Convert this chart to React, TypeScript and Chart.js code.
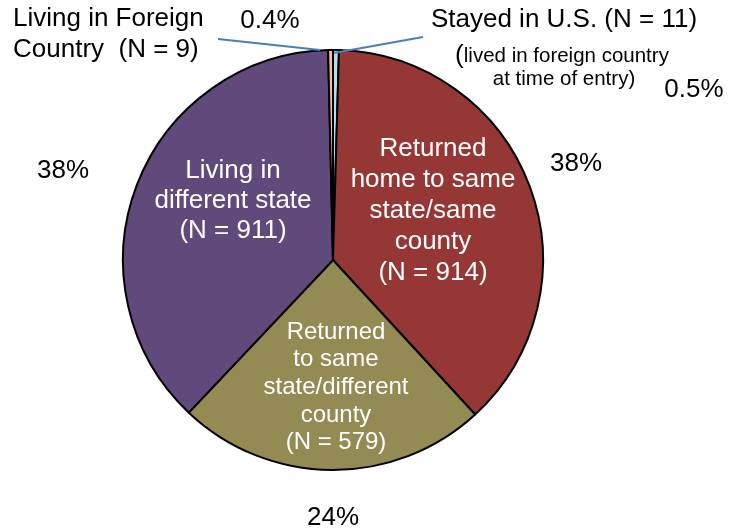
import React, { useEffect, useRef } from "react";
import { Chart, registerables } from "chart.js";

Chart.register(...registerables);

// ---- data ----
const categories = [
  "Stayed in U.S. (N = 11)",
  "Returned home to same state/same county (N = 914)",
  "Returned to same state/different county (N = 579)",
  "Living in different state (N = 911)",
  "Living in Foreign Country (N = 9)",
];
const counts = [11, 914, 579, 911, 9];
const percentLabels = ["0.5%", "38%", "24%", "38%", "0.4%"];
const sliceColors = ["#B7DEE8", "#953735", "#948A54", "#604A7B", "#FAC090"];

const FONT = '"Liberation Sans", Arial, sans-serif';

type Block = {
  lines: string[];
  dx: number; // offset from pie center
  dy: number;
  size: number;
  gap: number;
  color: string;
  align: CanvasTextAlign;
};

// text blocks, positioned relative to the pie centre
const blocks: Block[] = [
  { lines: ["Returned", "home to same", "state/same", "county", "(N = 914)"], dx: 100, dy: -111, size: 26, gap: 31, color: "#fff", align: "center" },
  { lines: ["Returned", "to same", "state/different", "county", "(N = 579)"], dx: 3, dy: 72, size: 24, gap: 27.7, color: "#fff", align: "center" },
  { lines: ["Living in", "different state", "(N = 911)"], dx: -100, dy: -89, size: 26, gap: 30, color: "#fff", align: "center" },
  { lines: ["Living in Foreign", "Country  (N = 9)"], dx: -320, dy: -241, size: 26, gap: 31, color: "#000", align: "left" },
  { lines: ["Stayed in U.S. (N = 11)"], dx: 231, dy: -240, size: 26, gap: 31, color: "#000", align: "center" },
  { lines: ["at time of entry)"], dx: 231, dy: -181, size: 20.5, gap: 24, color: "#000", align: "center" },
  { lines: [percentLabels[1]], dx: 243, dy: -96, size: 26, gap: 30, color: "#000", align: "center" },
  { lines: [percentLabels[2]], dx: 0, dy: 258, size: 26, gap: 30, color: "#000", align: "center" },
  { lines: [percentLabels[3]], dx: -270, dy: -89, size: 26, gap: 30, color: "#000", align: "center" },
  { lines: [percentLabels[0]], dx: 361, dy: -170, size: 26, gap: 30, color: "#000", align: "center" },
  { lines: [percentLabels[4]], dx: -63, dy: -239, size: 26, gap: 30, color: "#000", align: "center" },
];

const labelPlugin = {
  id: "pieLabels",
  afterDraw(chart: any) {
    const arc = chart.getDatasetMeta(0).data[0];
    if (!arc) return;
    const cx = arc.x;
    const cy = arc.y;
    const ctx = chart.ctx as CanvasRenderingContext2D;
    ctx.save();
    // leader lines
    ctx.strokeStyle = "#4A7EBB";
    ctx.lineWidth = 2;
    ctx.beginPath();
    ctx.moveTo(cx - 115, cy - 221);
    ctx.lineTo(cx - 13, cy - 210);
    ctx.moveTo(cx + 90, cy - 223);
    ctx.lineTo(cx + 1, cy - 207);
    ctx.stroke();

    ctx.textBaseline = "middle";
    for (const b of blocks) {
      ctx.fillStyle = b.color;
      ctx.font = `${b.size}px ${FONT}`;
      ctx.textAlign = b.align;
      b.lines.forEach((ln, i) => {
        ctx.fillText(ln, cx + b.dx, cy + b.dy + i * b.gap);
      });
    }
    // "(lived in foreign country" with a larger opening parenthesis
    const rest = "lived in foreign country";
    ctx.font = `26px ${FONT}`;
    const pw = ctx.measureText("(").width;
    ctx.font = `20.5px ${FONT}`;
    const rw = ctx.measureText(rest).width;
    const startX = cx + 229 - (pw + rw) / 2;
    ctx.textAlign = "left";
    ctx.fillStyle = "#000";
    ctx.font = `26px ${FONT}`;
    ctx.fillText("(", startX, cy - 204);
    ctx.font = `20.5px ${FONT}`;
    ctx.fillText(rest, startX + pw, cy - 204);
    ctx.restore();
  },
};

export default function App() {
  const ref = useRef<HTMLCanvasElement | null>(null);
  useEffect(() => {
    if (!ref.current) return;
    const chart = new Chart(ref.current, {
      type: "pie",
      data: {
        labels: categories,
        datasets: [
          {
            data: counts,
            backgroundColor: sliceColors,
            borderColor: "#000",
            borderWidth: 2,
          },
        ],
      },
      options: {
        responsive: false,
        animation: false,
        layout: { padding: { left: 122, right: 197, top: 49, bottom: 60 } },
        plugins: {
          legend: { display: false },
          tooltip: { enabled: false },
        },
      },
      plugins: [labelPlugin],
    });
    return () => chart.destroy();
  }, []);
  return (
    <div style={{ position: "fixed", left: 0, top: 0, width: 741, height: 531, background: "#fff" }}>
      <canvas ref={ref} width={741} height={531} style={{ width: 741, height: 531 }} />
    </div>
  );
}
